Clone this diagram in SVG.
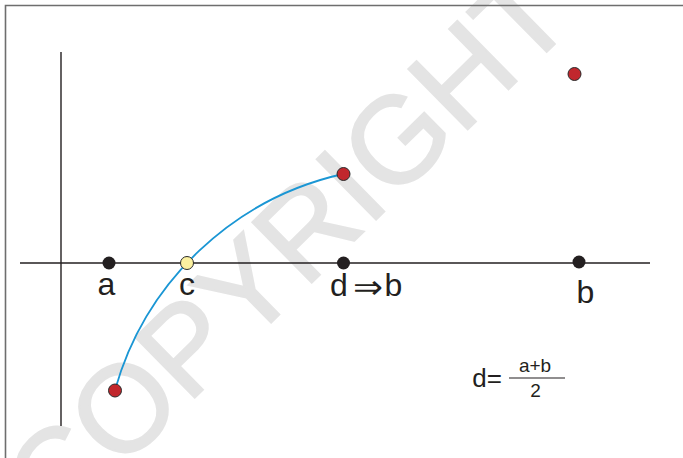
<svg xmlns="http://www.w3.org/2000/svg" width="683" height="458" viewBox="0 0 683 458">
<style>
.lbl{font-family:"Liberation Sans","DejaVu Sans",Arial,sans-serif;fill:#231f20;text-anchor:middle}
.big{font-size:32px}
.frac{font-size:19px}
.blk{fill:#231f20}
.red{fill:#c1272d;stroke:#2a2a2a;stroke-width:1}
.yel{fill:#fbf1a0;stroke:#2a2a2a;stroke-width:1}
.axis{stroke:#231f20;fill:none}
.wm{font-family:"Liberation Sans",Arial,sans-serif;font-size:123px;fill:#e4e4e4;stroke:#e4e4e4;stroke-width:2}
</style>
<rect width="683" height="458" fill="#fff"/>
<text class="wm" transform="translate(56,534) rotate(-44.5)">COPYRIGHT</text>
<path d="M5.5,458 V5.5 H683" fill="none" stroke="#6e6e6e" stroke-width="1.6"/>
<g id="axes">
<line class="axis" x1="61" y1="52" x2="61" y2="426" stroke-width="1.4"/>
<line class="axis" x1="20" y1="263" x2="650" y2="263" stroke-width="1.6"/>
</g>
<g id="connectors">
<path d="M115,390 A307,307 0 0 1 343,174" fill="none" stroke="#1a96d4" stroke-width="1.8"/>
</g>
<g id="node-a"><circle class="blk" cx="109" cy="263" r="6.5"/><text class="lbl big" x="106.5" y="295">a</text></g>
<g id="node-c"><circle class="yel" cx="187" cy="263" r="6.5"/><text class="lbl big" x="187" y="295">c</text></g>
<g id="node-d"><circle class="blk" cx="343.5" cy="263" r="6.5"/>
<text class="lbl big" x="339" y="296">d</text>
<text x="353" y="298" font-size="32" fill="#231f20" font-family="DejaVu Sans,sans-serif" textLength="30" lengthAdjust="spacingAndGlyphs">⇒</text>
<text class="lbl big" x="393.5" y="296">b</text></g>
<g id="node-b"><circle class="blk" cx="579" cy="262" r="6.5"/><text class="lbl big" x="585.5" y="303">b</text></g>
<g id="node-red1"><circle class="red" cx="343.5" cy="174" r="6.5"/></g>
<g id="node-red2"><circle class="red" cx="574.5" cy="74" r="6.5"/></g>
<g id="node-red3"><circle class="red" cx="115" cy="390.5" r="6.5"/></g>
<g id="formula">
<text class="lbl" x="487" y="387" font-size="26">d=</text>
<text class="lbl frac" x="535" y="372">a+b</text>
<line x1="509" y1="378" x2="565" y2="378" stroke="#231f20" stroke-width="1.2"/>
<text class="lbl frac" x="535.5" y="397">2</text>
</g>
</svg>
